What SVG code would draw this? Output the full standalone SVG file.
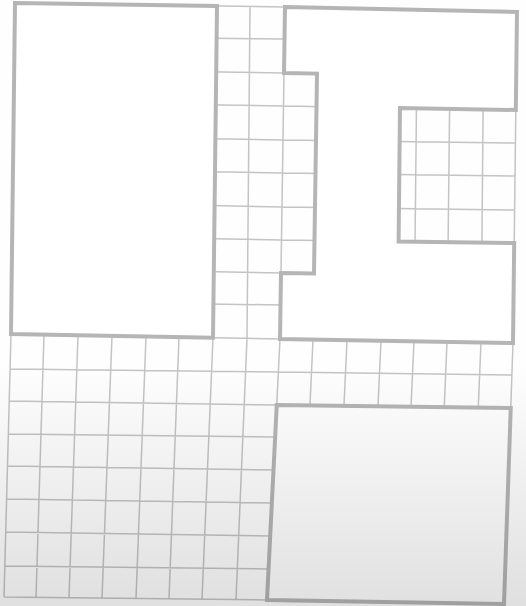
<svg xmlns="http://www.w3.org/2000/svg" width="526" height="606" viewBox="0 0 526 606">
  <style>
    .grid { fill: none; stroke: #c4c4c4; stroke-width: 1.5; }
    .block { fill: #ffffff; stroke: #b5b5b5; stroke-width: 4; stroke-linejoin: miter; }
  </style>
  <defs>
    <linearGradient id="shade" x1="0" y1="0" x2="0" y2="1">
      <stop offset="0" stop-color="#000" stop-opacity="0"/>
      <stop offset="0.6" stop-color="#000" stop-opacity="0"/>
      <stop offset="1" stop-color="#000" stop-opacity="0.12"/>
    </linearGradient>
  </defs>
  <rect x="0" y="0" width="526" height="606" fill="#fefefe"/>
  <g id="grid">
    <path class="grid" d="
      M15 3L11 334L4 597
      M48.7 3.5L44 334.6L36 597.4
      M82.3 4L78 335.3L69 597.8
      M116 4.5L112 335.9L102 598.1
      M149.7 5L146 336.5L136 598.5
      M183.3 5.5L179 337.1L169 598.9
      M217 6L213 337.8L202 599.3
      M250 6.5L247 338.4L236 599.6
      M285 7L280 339L267 600
      M318 7.7L313 339.6L301 600.6
      M351 8.4L347 340.1L335 601.1
      M384 9.1L381 340.7L369 601.7
      M417.5 9.9L414 341.3L402 602.3
      M450.7 10.6L447 341.9L436 602.9
      M484 11.3L481 342.4L470 603.4
      M517 12L513 343L504 604
      M15 3L285 7L517 12
      M14.6 36L284.5 39L516.6 44
      M14.2 69L284 73L516.2 77
      M13.8 102L283.5 106L515.8 110
      M13.4 135L283 140L515.4 143
      M13 168L282.5 173L515 176
      M12.6 201L282 207L514.6 210
      M12.2 235L281.5 240L514.2 243
      M11.8 268L281 273L513.8 276
      M11.4 301L280.5 305L513.4 309
      M11 334L280 339L513 343
      M10.1 369L278.4 372L511.9 375
      M9.25 401L276.75 405L510.75 408
      M8.4 434L275.1 437L509.6 441
      M7.5 466L273.5 470L508.5 474
      M6.6 499L271.9 503L507.4 507
      M5.75 532L270.25 536L506.25 540
      M4.9 566L268.6 569L505.1 572
      M4 597L267 600L504 604"/>
  </g>
  <g id="block-left">
    <path class="block" d="M15 3L217 6L213 337.8L11 334Z"/>
  </g>
  <g id="block-right-upper">
    <path class="block" d="M285 7L517 12L515.8 110L400 108L398.6 241.5L514.2 243L513 343L280 339L281 273L314 273.4L317 73.6L284 73Z"/>
  </g>
  <g id="block-right-lower">
    <path class="block" d="M276.75 405L510.75 408L504 604L267 600Z"/>
  </g>
  <rect x="0" y="0" width="526" height="606" fill="url(#shade)"/>
</svg>
